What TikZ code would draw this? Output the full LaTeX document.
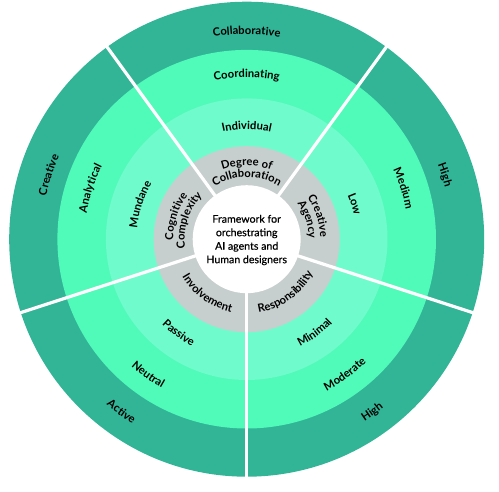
\documentclass[tikz,border=0pt]{standalone}
\usepackage{fontspec}
\setmainfont{Lato}
\newfontfamily\centrefont[FakeBold=0.4]{Lato}
\usetikzlibrary{decorations.text}
\definecolor{ringD}{HTML}{32B496}
\definecolor{ringM}{HTML}{50FAB9}
\definecolor{ringL}{HTML}{70FBCC}
\definecolor{ringG}{HTML}{C6CFCE}
\newcommand{\lblfont}{\fontsize{11.2}{13}\selectfont\bfseries}
% clockwise arc label (letter tops outward): centre angle, radius, text
\newcommand{\cwlabel}[3]{%
  \path[decorate,decoration={text along path,text align=center,text={|\lblfont|#3}}]
    ({#1+80}:#2) arc[start angle={#1+80}, end angle={#1-80}, radius=#2];}
% counter-clockwise arc label (letter tops inward)
\newcommand{\ccwlabel}[3]{%
  \path[decorate,decoration={text along path,text align=center,text={|\lblfont|#3}}]
    ({#1-80}:#2) arc[start angle={#1-80}, end angle={#1+80}, radius=#2];}
\begin{document}
\begin{tikzpicture}[x=1pt,y=1pt,
  divider/.style={white,line width=3.2pt},
  centertext/.style={align=center,font=\centrefont\fontsize{10.6}{13.5}\selectfont,text=black,inner sep=0pt}]
\useasboundingbox (-246.7,-251.8) rectangle (252.3,239.2);
% rings
\fill[ringD] (0,0) circle (237.5);
\fill[ringM] (0,0) circle (189.3);
\fill[ringL] (0,0) circle (140.8);
\fill[ringG] (0,0) circle (93);
% dividers
\foreach \a in {54,126,198,270,342} \draw[divider] (0,0) -- (\a:239);
\fill[white] (0,0) circle (54);
% centre
\node[centertext] (core) at (0,-0.8) {Framework for\\orchestrating\\AI agents and\\Human designers};
% top sector: Degree of Collaboration
\cwlabel{90}{205}{Collaborative}
\cwlabel{90}{162}{Coordinating}
\cwlabel{90}{110}{Individual}
\cwlabel{90}{73.5}{Degree of}
\cwlabel{90}{62}{Collaboration}
% upper-left sector: Cognitive Complexity
\cwlabel{162}{205}{Creative}
\cwlabel{162}{162}{Analytical}
\cwlabel{162}{110}{Mundane}
\cwlabel{162}{73.5}{Cognitive}
\cwlabel{162}{62}{Complexity}
% right sector: Creative Agency
\cwlabel{18}{205}{High}
\cwlabel{18}{162}{Medium}
\cwlabel{18}{110}{Low}
\cwlabel{18}{73.5}{Creative}
\cwlabel{18}{62}{Agency}
% bottom-left sector: Involvement
\ccwlabel{234}{217}{Active}
\ccwlabel{234}{171.5}{Neutral}
\ccwlabel{234}{120}{Passive}
\ccwlabel{234}{74.5}{Involvement}
% bottom-right sector: Responsibility
\ccwlabel{306}{217}{High}
\ccwlabel{306}{171.5}{Moderate}
\ccwlabel{306}{120}{Minimal}
\ccwlabel{306}{74.5}{Responsibility}
\end{tikzpicture}
\end{document}
